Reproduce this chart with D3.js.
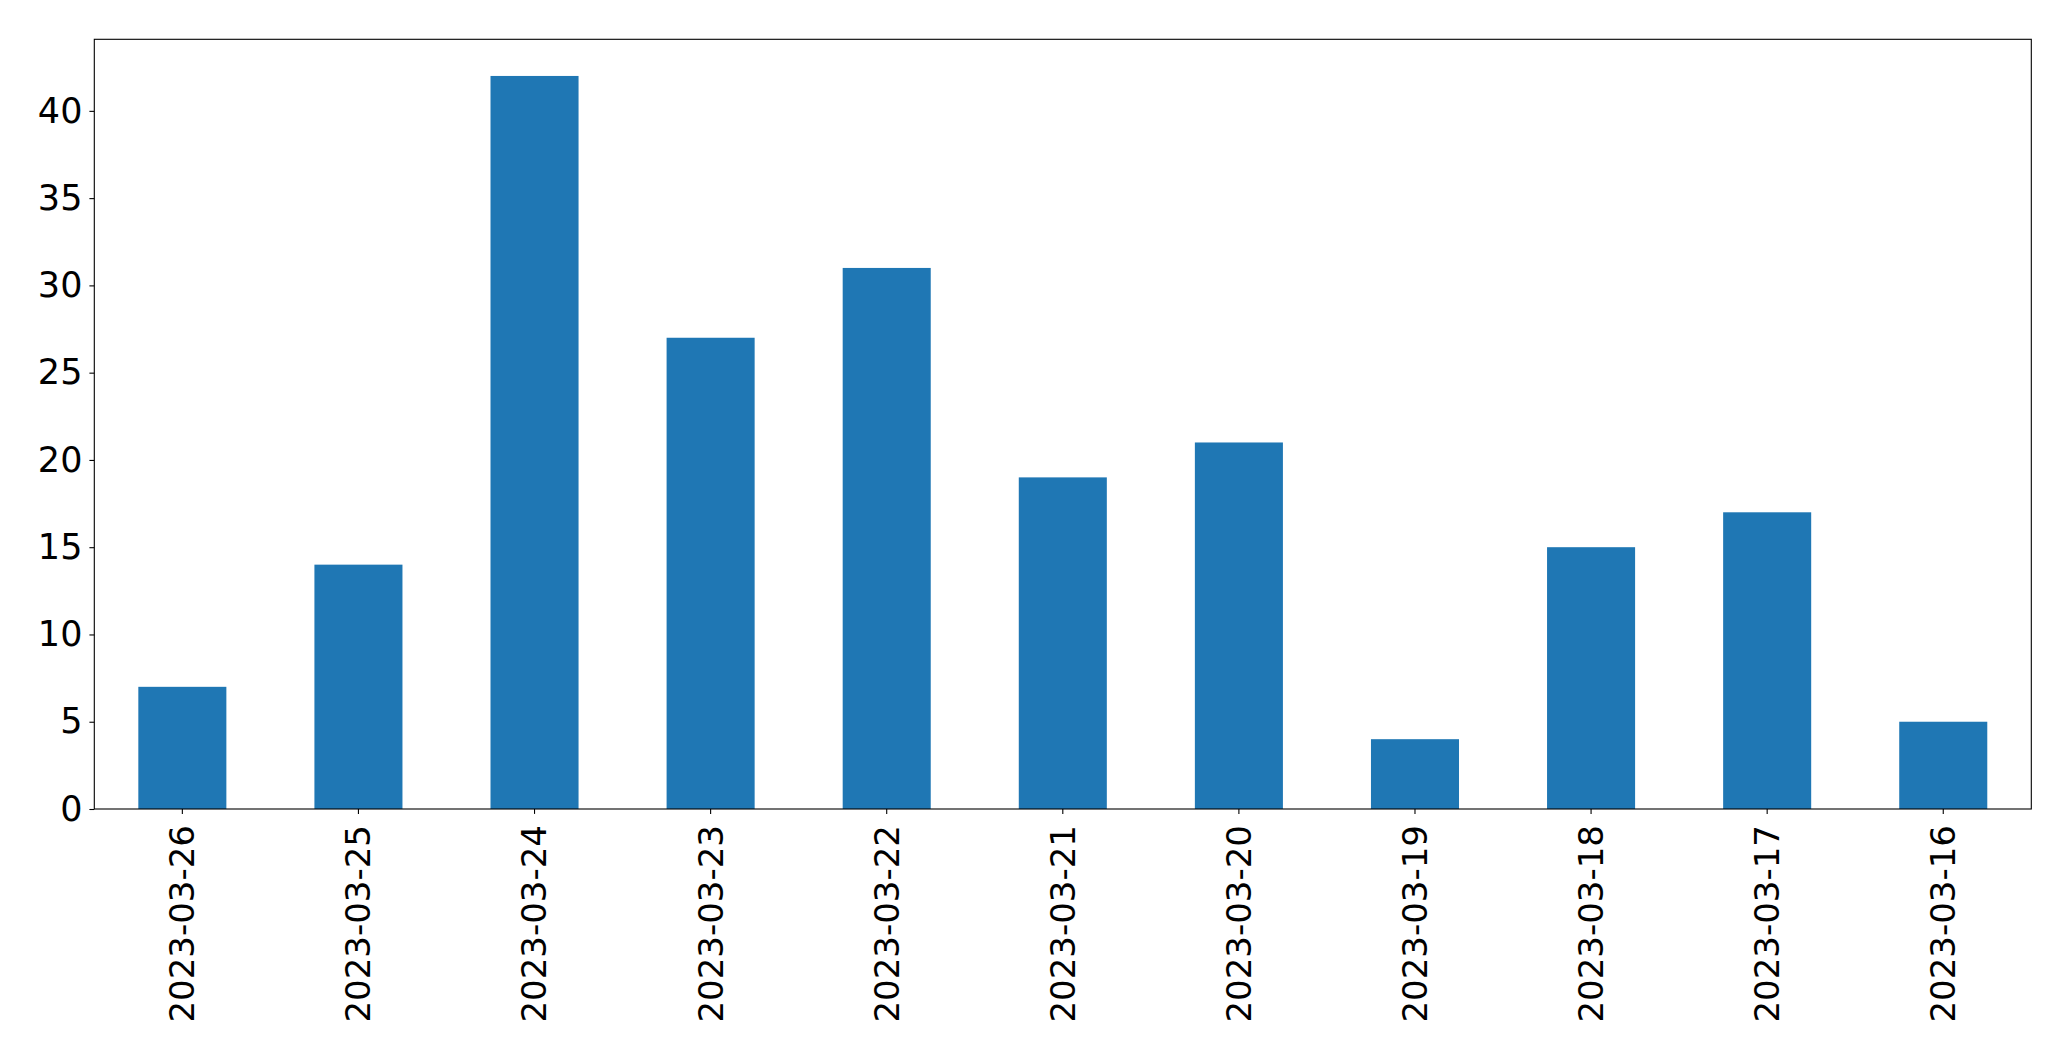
<!DOCTYPE html>
<html><head><meta charset="utf-8">
<script src="https://cdn.jsdelivr.net/npm/d3@7"></script>
<style>body{margin:0;background:#fff}svg{display:block}</style>
</head><body>
<script>
const categories = ["2023-03-26","2023-03-25","2023-03-24","2023-03-23","2023-03-22","2023-03-21","2023-03-20","2023-03-19","2023-03-18","2023-03-17","2023-03-16"];
const values = [7,14,42,27,31,19,21,4,15,17,5];
const yTicks = [0,5,10,15,20,25,30,35,40];

const W = 2071, H = 1061;
const m = {left:94.3, right:2031.3, top:39.3, bottom:809};
const fontSize = 34;
const svg = d3.select("body").append("svg").attr("width",W).attr("height",H);

const x = d3.scaleBand().domain(categories).range([m.left,m.right]).paddingInner(0.5).paddingOuter(0.25);
const y = d3.scaleLinear().domain([0, d3.max(values)*1.05]).range([m.bottom,m.top]);

svg.append("g").selectAll("rect").data(values).join("rect")
  .attr("x",(d,i)=>x(categories[i])).attr("width",x.bandwidth())
  .attr("y",d=>y(d)).attr("height",d=>y(0)-y(d)).attr("fill","#1f77b4");

const yAxis = svg.append("g").attr("transform",`translate(${m.left},0)`)
  .call(d3.axisLeft(y).tickValues(yTicks).tickSize(4.9).tickPadding(7));
yAxis.select(".domain").remove();
yAxis.selectAll("text").attr("font-family","DejaVu Sans").attr("font-size",35).attr("fill","#000");
yAxis.selectAll("line").attr("stroke","#000").attr("stroke-width",1.1);

const xAxis = svg.append("g").attr("transform",`translate(0,${m.bottom})`)
  .call(d3.axisBottom(x).tickSize(4.9).tickPadding(5));
xAxis.select(".domain").remove();
xAxis.selectAll("line").attr("stroke","#000").attr("stroke-width",1.1);
xAxis.selectAll("text").attr("font-family","DejaVu Sans").attr("font-size",fontSize).attr("fill","#000")
  .attr("transform","rotate(-90)").attr("text-anchor","end").attr("dy","0.35em").attr("y",0).attr("x",-16);

svg.append("rect").attr("x",m.left).attr("y",m.top).attr("width",m.right-m.left).attr("height",m.bottom-m.top)
  .attr("fill","none").attr("stroke","#000").attr("stroke-width",1.1);
</script>
</body></html>
